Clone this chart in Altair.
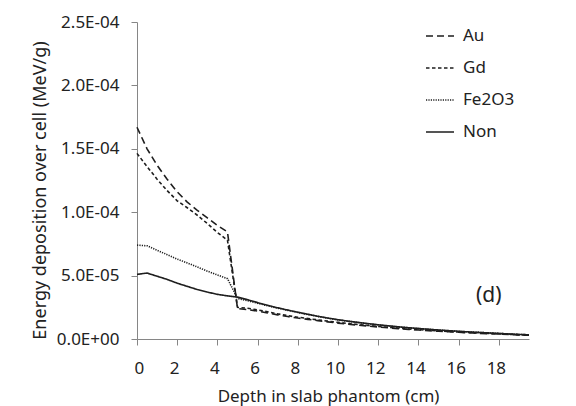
import altair as alt
import pandas as pd

depth = [i * 0.5 for i in range(40)]

au = [1.67, 1.50, 1.37, 1.26, 1.16, 1.08, 1.015, 0.955, 0.895, 0.845,
      0.24, 0.232, 0.22, 0.205, 0.19, 0.177, 0.165, 0.155, 0.145, 0.135,
      0.125, 0.117, 0.109, 0.102, 0.095, 0.088, 0.082, 0.076, 0.071, 0.066,
      0.061, 0.057, 0.053, 0.049, 0.045, 0.042, 0.039, 0.035, 0.032, 0.029]
gd = [1.464, 1.36, 1.26, 1.17, 1.09, 1.035, 0.976, 0.91, 0.84, 0.779,
      0.25, 0.242, 0.23, 0.214, 0.198, 0.184, 0.172, 0.161, 0.151, 0.141,
      0.131, 0.122, 0.114, 0.106, 0.099, 0.092, 0.085, 0.079, 0.074, 0.069,
      0.064, 0.059, 0.055, 0.051, 0.047, 0.043, 0.040, 0.037, 0.033, 0.030]
fe2o3 = [0.74, 0.735, 0.70, 0.665, 0.63, 0.60, 0.568, 0.535, 0.505, 0.476,
         0.32, 0.302, 0.282, 0.262, 0.243, 0.226, 0.209, 0.193, 0.178, 0.164,
         0.151, 0.140, 0.130, 0.120, 0.111, 0.103, 0.095, 0.088, 0.082, 0.076,
         0.070, 0.065, 0.060, 0.056, 0.052, 0.048, 0.044, 0.040, 0.036, 0.033]
non = [0.51, 0.52, 0.495, 0.47, 0.44, 0.415, 0.39, 0.37, 0.352, 0.34,
       0.33, 0.31, 0.287, 0.266, 0.246, 0.228, 0.211, 0.195, 0.179, 0.165,
       0.152, 0.141, 0.131, 0.121, 0.112, 0.104, 0.096, 0.089, 0.083, 0.077,
       0.071, 0.066, 0.061, 0.056, 0.052, 0.048, 0.044, 0.040, 0.036, 0.033]

series_names = ["Au", "Gd", "Fe2O3", "Non"]
series_vals = [au, gd, fe2o3, non]
dashes = [[7, 4], [3.5, 2.5], [1.2, 1.2], [1, 0]]

rows = []
for name, vals in zip(series_names, series_vals):
    for d, v in zip(depth, vals):
        rows.append({"depth": d, "energy": v * 1e-4, "material": name})
df = pd.DataFrame(rows)

annot = pd.DataFrame({"depth": [17.5], "energy": [0.336e-4], "label": ["(d)"]})

FONT = "Noto Sans"
y_label_expr = ("datum.value == 0 ? '0.0E+00' : "
                "format(datum.value / pow(10, floor(log(datum.value) / LN10 + 1e-9)), '.1f') + 'E-' + "
                "format(-floor(log(datum.value) / LN10 + 1e-9), '02d')")

x_enc = alt.X("depth:Q",
              scale=alt.Scale(domain=[0, 19.5], nice=False, zero=False),
              axis=alt.Axis(title="Depth in slab phantom (cm)",
                            values=list(range(0, 20)),
                            labelExpr="datum.value % 2 == 0 ? datum.label : ''",
                            grid=False, tickSize=6, labelPadding=15,
                            labelOffset=-3,
                            titlePadding=12, titleX=191,
                            domainColor="#868686", tickColor="#868686"))
y_enc = alt.Y("energy:Q",
              scale=alt.Scale(domain=[0, 2.5e-4], nice=False),
              axis=alt.Axis(title="Energy deposition over cell (MeV/g)",
                            values=[0, 5e-5, 1e-4, 1.5e-4, 2e-4, 2.5e-4],
                            labelExpr=y_label_expr,
                            grid=False, tickSize=6, labelPadding=12,
                            titlePadding=7, titleY=168, titleFontSize=18,
                            domainColor="#868686", tickColor="#868686"))

lines = alt.Chart(df).mark_line(color="#1e1e1e", strokeWidth=1.6).encode(
    x=x_enc,
    y=y_enc,
    strokeDash=alt.StrokeDash(
        "material:N",
        scale=alt.Scale(domain=series_names, range=dashes),
        legend=alt.Legend(title=None, orient="none", legendX=288, legendY=-1,
                          symbolType="stroke", symbolSize=784,
                          symbolStrokeWidth=1.4, symbolStrokeColor="#1e1e1e",
                          labelFont=FONT, labelFontSize=17, labelColor="#222222",
                          labelLimit=400, columns=1,
                          labelOffset=8, rowPadding=9, padding=0)),
    detail="material:N",
)

text = alt.Chart(annot).mark_text(font=FONT, fontSize=21, color="#222222").encode(
    x="depth:Q", y="energy:Q", text="label:N")

chart = alt.layer(lines, text).properties(
    width=392, height=317,
    background="white",
    autosize=alt.AutoSizeParams(type="none"),
    padding={"left": 137, "top": 22, "right": 47, "bottom": 67},
).configure_view(stroke=None).configure_axis(
    labelFont=FONT, labelFontSize=17, labelColor="#222222",
    titleFont=FONT, titleFontSize=17, titleFontWeight="normal", titleColor="#222222",
)

chart.save("out.html", embed_options={"renderer": "svg", "actions": False})
